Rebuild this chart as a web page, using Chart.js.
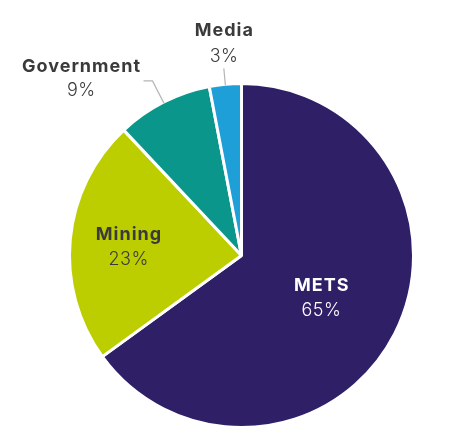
<!DOCTYPE html>
<html>
<head>
<meta charset="utf-8">
<script src="https://cdn.jsdelivr.net/npm/chart.js@4.4.1/dist/chart.umd.min.js"></script>
<style>
  html, body { margin: 0; padding: 0; background: #ffffff; }
  #wrap { width: 449px; height: 440px; position: relative; }
</style>
</head>
<body>
<div id="wrap"><canvas id="c" width="449" height="440"></canvas></div>
<script>
const categories = ["METS", "Mining", "Government", "Media"];
const shares = [65, 23, 9, 3];
const shareLabels = ["65%", "23%", "9%", "3%"];
const sliceColors = ["#2e1f66", "#bccd00", "#0a968a", "#1e9fd8"];

const labelStyle = [
  { mode: "inside", dist: 0.52, color: "#ffffff" },
  { mode: "inside", dist: 0.66, color: "#3a3a3a" },
  { mode: "outside", elbow: 25, tail: -9, color: "#3a3a3a" },
  { mode: "outside", elbow: 17, tail: 0, color: "#3a3a3a" }
];

const NAME_FONT = "700 18px Inter, 'Open Sans', sans-serif";
const PCT_FONT = "300 18px Inter, 'Open Sans', sans-serif";
const NAME_SP = 1;
const PCT_SP = 0.5;

function drawText(ctx, txt, x, y, font, sp) {
  ctx.font = font;
  ctx.letterSpacing = sp + "px";
  ctx.fillText(txt, x + sp / 2, y);
}

const pieLabels = {
  id: "pieLabels",
  afterDraw(chart) {
    const ctx = chart.ctx;
    const meta = chart.getDatasetMeta(0);
    meta.data.forEach((arc, i) => {
      const st = labelStyle[i];
      const p = arc.getProps(["x", "y", "startAngle", "endAngle", "outerRadius"], true);
      const a = (p.startAngle + p.endAngle) / 2;
      const cx = Math.cos(a), cy = Math.sin(a);
      ctx.save();
      ctx.textAlign = "center";
      ctx.textBaseline = "alphabetic";
      if (st.mode === "inside") {
        const d = p.outerRadius * st.dist;
        const x = p.x + cx * d, y = p.y + cy * d;
        ctx.fillStyle = st.color;
        drawText(ctx, chart.data.labels[i], x, y - 5, NAME_FONT, NAME_SP);
        drawText(ctx, shareLabels[i], x, y + 20, PCT_FONT, PCT_SP);
      } else {
        const r0 = p.outerRadius - 1;
        const x0 = p.x + cx * r0, y0 = p.y + cy * r0;
        const x1 = p.x + cx * (r0 + st.elbow), y1 = p.y + cy * (r0 + st.elbow);
        const x2 = x1 + st.tail;
        ctx.strokeStyle = "#b5b5b5";
        ctx.lineWidth = 1.2;
        ctx.beginPath();
        ctx.moveTo(x0, y0);
        ctx.lineTo(x1, y1);
        if (st.tail !== 0) ctx.lineTo(x2, y1);
        ctx.stroke();
        ctx.font = NAME_FONT;
        ctx.letterSpacing = NAME_SP + "px";
        const w = ctx.measureText(chart.data.labels[i]).width;
        let tx, pctY, nameY;
        if (st.tail !== 0) {
          tx = x2 - 3 - w / 2;
          nameY = y1 - 9;
          pctY = y1 + 15;
        } else {
          tx = x1;
          pctY = y1 - 6;
          nameY = pctY - 26;
        }
        ctx.fillStyle = st.color;
        drawText(ctx, chart.data.labels[i], tx, nameY, NAME_FONT, NAME_SP);
        drawText(ctx, shareLabels[i], tx, pctY, PCT_FONT, PCT_SP);
      }
      ctx.restore();
    });
  }
};

new Chart(document.getElementById("c"), {
  type: "pie",
  data: {
    labels: categories,
    datasets: [{
      data: shares,
      backgroundColor: sliceColors,
      borderColor: "#ffffff",
      borderWidth: 3
    }]
  },
  options: {
    responsive: false,
    animation: false,
    layout: { padding: { left: 68, right: 34, top: 82, bottom: 11 } },
    plugins: {
      legend: { display: false },
      tooltip: { enabled: false }
    }
  },
  plugins: [pieLabels]
});
</script>
</body>
</html>
